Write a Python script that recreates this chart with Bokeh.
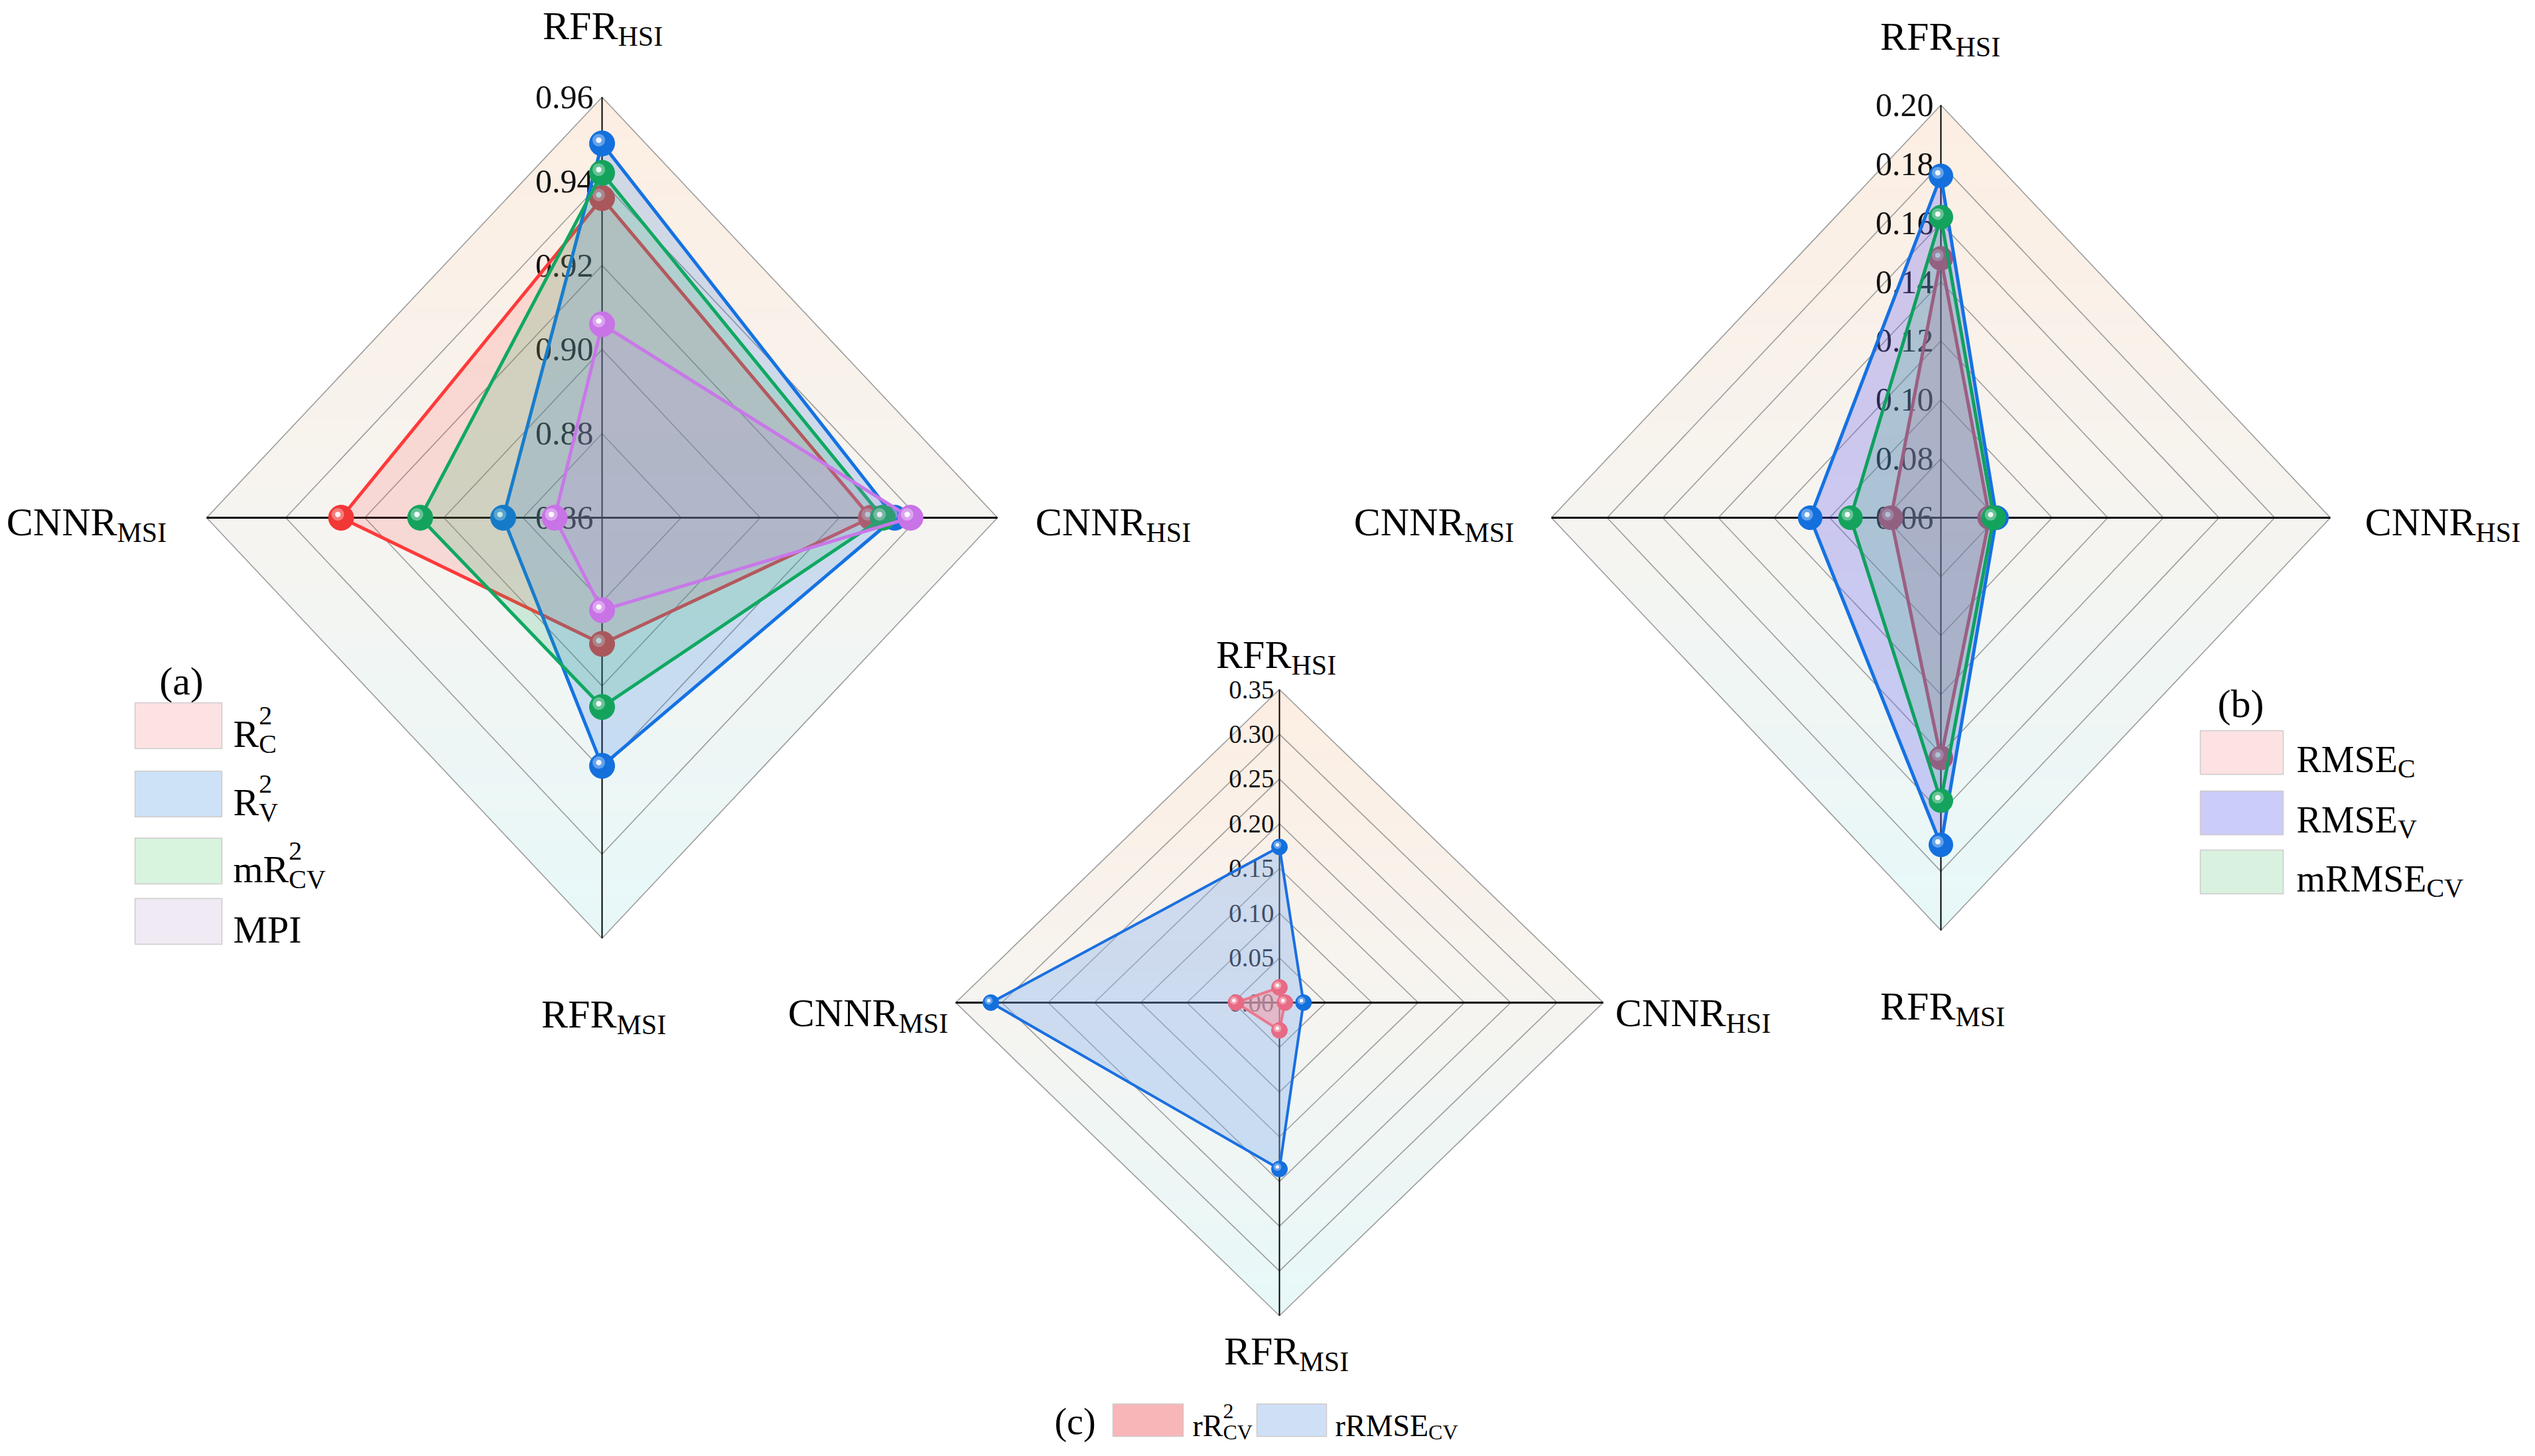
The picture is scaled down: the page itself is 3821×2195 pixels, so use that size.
from bokeh.plotting import figure
from bokeh.models import Range1d
from bokeh.embed import file_html
from bokeh.resources import INLINE
from bokeh.core.properties import value

# ---------------- data ----------------
# axis order: RFR_HSI (top), CNNR_HSI (right), RFR_MSI (bottom), CNNR_MSI (left)
axes_main = ["RFR", "CNNR", "RFR", "CNNR"]
axes_sub = ["HSI", "HSI", "MSI", "MSI"]

# (a) R2 metrics
a_ticks = [0.86, 0.88, 0.90, 0.92, 0.94, 0.96]
a_tick_labels = ["0.86", "0.88", "0.90", "0.92", "0.94", "0.96"]
a_R2_C = [0.936, 0.928, 0.890, 0.926]
a_R2_V = [0.949, 0.934, 0.919, 0.885]
a_mR2_CV = [0.942, 0.931, 0.905, 0.906]
a_MPI = [0.906, 0.938, 0.882, 0.872]

# (b) RMSE metrics
b_ticks = [0.06, 0.08, 0.10, 0.12, 0.14, 0.16, 0.18, 0.20]
b_tick_labels = ["0.06", "0.08", "0.10", "0.12", "0.14", "0.16", "0.18", "0.20"]
b_RMSE_C = [0.148, 0.0775, 0.1415, 0.078]
b_RMSE_V = [0.176, 0.080, 0.171, 0.107]
b_mRMSE_CV = [0.162, 0.079, 0.156, 0.0925]

# (c) relative metrics
c_ticks = [0.00, 0.05, 0.10, 0.15, 0.20, 0.25, 0.30, 0.35]
c_tick_labels = ["0.00", "0.05", "0.10", "0.15", "0.20", "0.25", "0.30", "0.35"]
c_rR2_CV = [0.017, 0.006, 0.031, 0.047]
c_rRMSE_CV = [0.174, 0.026, 0.186, 0.312]

FONT = value("Liberation Serif")

p = figure(width=3805, height=2179, x_range=Range1d(8, 3813), y_range=Range1d(2187, 8),
           output_backend="svg", toolbar_location=None, x_axis_type=None, y_axis_type=None,
           min_border=0, min_border_left=0, min_border_right=0, min_border_top=0, min_border_bottom=0)
p.grid.visible = False
p.outline_line_color = None
p.background_fill_color = "white"
p.border_fill_color = "white"

DIRS = [(0, -1), (1, 0), (0, 1), (-1, 0)]

W = {"R": .667, "F": .556, "H": .722, "S": .556, "I": .333, "C": .667, "N": .722, "M": .889,
     "P": .556, "E": .611, "m": .778, "r": .333, "V": .722}


def tw(s, size):
    return sum(W.get(ch, 0.5) for ch in s) * size


def lerp(c1, c2, t):
    return tuple(int(round(a + (b - a) * t)) for a, b in zip(c1, c2))


def hexc(c):
    return "#%02x%02x%02x" % c


def background(cx, cy, rx, ry, n=60):
    top, mid, bot = (253, 238, 226), (246, 244, 240), (231, 248, 249)
    xs, ys, cols = [], [], []

    def hw(y):
        return rx * (1 - abs(y - cy) / ry)
    for i in range(n):
        y0 = cy - ry + 2 * ry * i / n
        y1 = cy - ry + 2 * ry * (i + 1) / n
        px = [cx - hw(y0), cx + hw(y0)]
        py = [y0, y0]
        if y0 < cy < y1:
            px.append(cx + rx)
            py.append(cy)
        px += [cx + hw(y1), cx - hw(y1)]
        py += [y1, y1]
        if y0 < cy < y1:
            px.append(cx - rx)
            py.append(cy)
        t = (i + 0.5) / n
        c = lerp(top, mid, t * 2) if t < 0.5 else lerp(mid, bot, (t - 0.5) * 2)
        xs.append(px)
        ys.append(py)
        cols.append(hexc(c))
    p.patches(xs, ys, fill_color=cols, line_color=cols, line_width=1)


def to_xy(vals, cx, cy, rx, ry, vmin, vmax):
    xs, ys = [], []
    for v, (dx, dy) in zip(vals, DIRS):
        f = (v - vmin) / (vmax - vmin)
        xs.append(cx + dx * rx * f)
        ys.append(cy + dy * ry * f)
    return xs, ys


def radar_frame(cx, cy, rx, ry, ticks, labels, tick_size, tick_off, label_pos):
    background(cx, cy, rx, ry)
    n = len(ticks) - 1
    gx, gy = [], []
    for k in range(1, n + 1):
        f = k / n
        gx.append([cx, cx + rx * f, cx, cx - rx * f, cx])
        gy.append([cy - ry * f, cy, cy + ry * f, cy, cy - ry * f])
    p.multi_line(gx, gy, line_color="#9c9c9c", line_width=1.6)
    p.line([cx - rx, cx + rx], [cy, cy], line_color="black", line_width=3)
    p.line([cx, cx], [cy - ry, cy + ry], line_color="black", line_width=2)
    ty = [cy - ry * k / n for k in range(n + 1)]
    p.text([cx - tick_off] * (n + 1), ty, text=labels, text_font=FONT,
           text_font_size=value("%dpx" % tick_size), text_align="right",
           text_baseline="middle", text_color="#111111")
    # axis labels: (boundary x, baseline y)
    for (bx, by), m, s in zip(label_pos, axes_main, axes_sub):
        p.text([bx], [by], text=[m], text_font=FONT, text_font_size=value("60px"),
               text_align="right", text_baseline="alphabetic", text_color="black")
        p.text([bx], [by + 16], text=[s], text_font=FONT, text_font_size=value("42px"),
               text_align="left", text_baseline="alphabetic", text_color="black")


def series(vals, geom, line_col, fill_col, fill_alpha, mark_col, msize, lw):
    xs, ys = to_xy(vals, *geom)
    p.patch(xs + [xs[0]], ys + [ys[0]], fill_color=fill_col, fill_alpha=fill_alpha, line_color=None)
    p.line(xs + [xs[0]], ys + [ys[0]], line_color=line_col, line_width=lw, line_join="round")
    p.scatter(xs, ys, size=msize, fill_color=mark_col, line_color=mark_col, line_width=1)
    o = msize * 0.13
    p.scatter([x - o for x in xs], [y - o for y in ys], size=msize * 0.5,
              fill_color="white", fill_alpha=0.35, line_color=None)
    p.scatter([x - o for x in xs], [y - o for y in ys], size=msize * 0.22,
              fill_color="white", fill_alpha=0.9, line_color=None)


def legend_item(x0, y0, w, h, color, main, sup, sub, tx, size, ssize, base_off, sup_off, sub_off):
    p.quad(left=[x0], right=[x0 + w], top=[y0], bottom=[y0 + h], fill_color=color,
           line_color="#cfcaca", line_width=1.5)
    yc = y0 + h / 2
    p.text([tx], [yc + base_off], text=[main], text_font=FONT, text_font_size=value("%dpx" % size),
           text_baseline="alphabetic", text_align="left", text_color="black")
    sx = tx + tw(main, size)
    if sup:
        p.text([sx], [yc + sup_off], text=[sup], text_font=FONT, text_font_size=value("%dpx" % ssize),
               text_baseline="alphabetic", text_align="left", text_color="black")
    if sub:
        p.text([sx], [yc + sub_off], text=[sub], text_font=FONT, text_font_size=value("%dpx" % ssize),
               text_baseline="alphabetic", text_align="left", text_color="black")


# ---------------- (a) ----------------
GA = (915, 788, 596, 634, a_ticks[0], a_ticks[-1])
radar_frame(915, 788, 596, 634, a_ticks, a_tick_labels, 50, 13,
            [(939, 46), (1735, 794), (937, 1536), (184, 794)])
series(a_R2_C, GA, "#ff3a3a", "#ff4d4d", 0.16, "#f23737", 38, 5)
series(a_R2_V, GA, "#1572e2", "#2a7ae6", 0.2, "#1370dd", 38, 5)
series(a_mR2_CV, GA, "#10a862", "#1fb06c", 0.18, "#14a35d", 38, 5)
series(a_MPI, GA, "#c878e8", "#c27ee2", 0.15, "#c873e6", 38, 5)

p.text([281], [1034], text=["(a)"], text_font=FONT, text_font_size=value("60px"),
       text_align="center", text_baseline="alphabetic", text_color="black")
legend_item(211, 1067, 131, 69, "#fde2e4", "R", "2", "C", 359, 58, 40, 12, -15, 27)
legend_item(211, 1170, 131, 69, "#cde2f6", "R", "2", "V", 359, 58, 40, 12, -15, 27)
legend_item(211, 1271, 131, 69, "#d8f3de", "mR", "2", "CV", 359, 58, 40, 12, -15, 27)
legend_item(211, 1362, 131, 69, "#efeaf4", "MPI", None, None, 359, 58, 40, 12, -15, 27)

# ---------------- (b) ----------------
GB = (2933, 788, 587, 622, b_ticks[0], b_ticks[-1])
radar_frame(2933, 788, 587, 622, b_ticks, b_tick_labels, 50, 11,
            [(2955, 62), (3739, 794), (2955, 1524), (2215, 794)])
series(b_RMSE_C, GB, "#d8435c", "#f06a80", 0.22, "#c9465c", 36, 5)
series(b_RMSE_V, GB, "#1572e2", "#6a62ee", 0.3, "#1370dd", 36, 5)
series(b_mRMSE_CV, GB, "#10a060", "#2fb070", 0.2, "#14a35d", 36, 5)

p.text([3385], [1068], text=["(b)"], text_font=FONT, text_font_size=value("60px"),
       text_align="center", text_baseline="alphabetic", text_color="black")
legend_item(3324, 1109, 125, 66, "#fde2e4", "RMSE", None, "C", 3469, 56, 40, 10, 0, 24)
legend_item(3324, 1200, 125, 66, "#ccccf9", "RMSE", None, "V", 3469, 56, 40, 10, 0, 24)
legend_item(3324, 1289, 125, 66, "#d9f2df", "mRMSE", None, "CV", 3469, 56, 40, 10, 0, 24)

# ---------------- (c) ----------------
GC = (1936, 1519, 488, 472, c_ticks[0], c_ticks[-1])
radar_frame(1936, 1519, 488, 472, c_ticks, c_tick_labels, 39, 8,
            [(1954, 994), (2609, 1534), (1966, 2044), (1362, 1534)])
series(c_rRMSE_CV, GC, "#1a6fe0", "#8ab4ef", 0.38, "#1370dd", 24, 4)
series(c_rR2_CV, GC, "#e8788f", "#f2a0ae", 0.6, "#e86a84", 24, 4)

p.text([1628], [2150], text=["(c)"], text_font=FONT, text_font_size=value("56px"),
       text_align="center", text_baseline="alphabetic", text_color="black")
legend_item(1685, 2124, 106, 49, "#f9b6b9", "rR", "2", "CV", 1805, 46, 32, 8, -14, 18)
legend_item(1902, 2124, 105, 49, "#cfe0f6", "rRMSE", None, "CV", 2020, 46, 32, 8, -14, 18)

open("out.html", "w").write(file_html(p, INLINE))
